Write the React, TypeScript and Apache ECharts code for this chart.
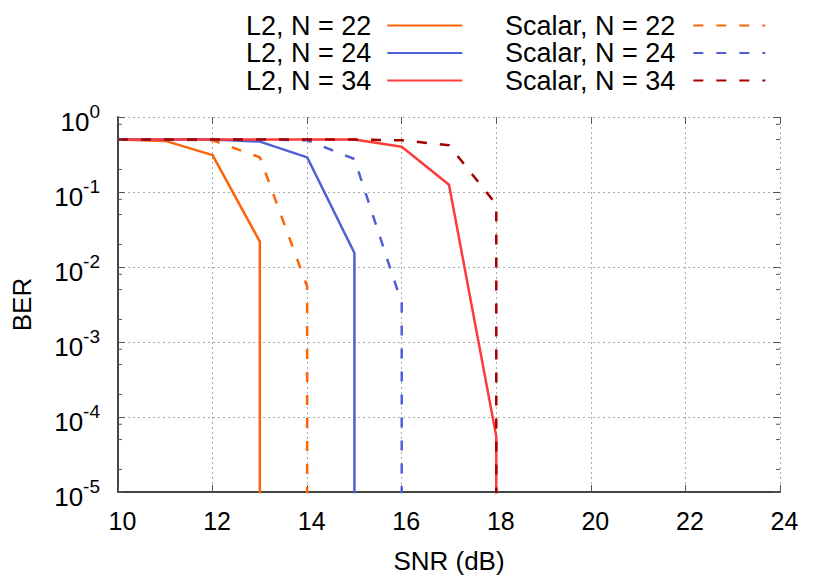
import React, { useEffect, useRef } from "react";
import * as echarts from "echarts";

// ---- data ----
// SNR (dB) / BER pairs; the last point of each curve (BER below the 1e-5 floor) marks the vertical drop
const snrL2N22 = [10, 11, 12, 13, 13];
const berL2N22 = [0.5, 0.48, 0.31, 0.0218, 1e-7];

const snrL2N24 = [10, 11, 12, 13, 14, 15, 15];
const berL2N24 = [0.5, 0.5, 0.5, 0.47, 0.29, 0.0154, 1e-7];

const snrL2N34 = [10, 11, 12, 13, 14, 15, 16, 17, 18, 18];
const berL2N34 = [0.5, 0.5, 0.5, 0.5, 0.5, 0.5, 0.4, 0.125, 5.5e-5, 1e-7];

const snrScN22 = [10, 11, 12, 13, 14, 14];
const berScN22 = [0.5, 0.5, 0.49, 0.29, 0.0055, 1e-7];

const snrScN24 = [10, 11, 12, 13, 14, 15, 16, 16];
const berScN24 = [0.5, 0.5, 0.5, 0.5, 0.49, 0.275, 0.0033, 1e-7];

const snrScN34 = [10, 11, 12, 13, 14, 15, 16, 17, 18, 18];
const berScN34 = [0.5, 0.5, 0.5, 0.5, 0.5, 0.5, 0.49, 0.42, 0.068, 1e-7];

const seriesNames = [
  "L2, N = 22",
  "L2, N = 24",
  "L2, N = 34",
  "Scalar, N = 22",
  "Scalar, N = 24",
  "Scalar, N = 34",
];
const seriesColors = ["#ff6308", "#4f5fd6", "#ff3a3a", "#ff6308", "#4f5fd6", "#a50000"];
const seriesDashed = [false, false, false, true, true, true];
const seriesSnr = [snrL2N22, snrL2N24, snrL2N34, snrScN22, snrScN24, snrScN34];
const seriesBer = [berL2N22, berL2N24, berL2N34, berScN22, berScN24, berScN34];

const xMin = 10;
const xMax = 24;
const xInterval = 2;
const yMin = 1e-5;
const yMax = 1;
// minor y ticks (2, 5, 8 within each decade)
const minorTickValues = [
  2e-5, 5e-5, 8e-5,
  2e-4, 5e-4, 8e-4,
  2e-3, 5e-3, 8e-3,
  2e-2, 5e-2, 8e-2,
  2e-1, 5e-1, 8e-1,
];

const FONT = "'Liberation Sans', Arial, Helvetica, sans-serif";

export default function App() {
  const ref = useRef<HTMLDivElement>(null);

  useEffect(() => {
    document.body.style.margin = "0";
    if (!ref.current) return;
    const chart = echarts.init(ref.current, undefined, { renderer: "svg" });

    const lineSeries = seriesNames.map((name, i) => ({
      name,
      type: "line",
      xAxisIndex: 0,
      yAxisIndex: 0,
      data: seriesSnr[i].map((x, k) => [x, seriesBer[i][k]]),
      symbol: "none",
      showSymbol: false,
      clip: true,
      z: 3,
      itemStyle: { color: seriesColors[i] },
      lineStyle: {
        color: seriesColors[i],
        width: 2.5,
        type: seriesDashed[i] ? [10, 13] : "solid",
      },
    }));

    const minorTickSeries = {
      type: "custom",
      xAxisIndex: 0,
      yAxisIndex: 0,
      silent: true,
      clip: false,
      z: 4,
      data: minorTickValues.map((v) => [xMin, v]),
      renderItem: (params: any, api: any) => {
        const v = api.value(1);
        const pl = api.coord([xMin, v]);
        const pr = api.coord([xMax, v]);
        const st = { stroke: "#555", lineWidth: 1 };
        return {
          type: "group",
          children: [
            { type: "line", shape: { x1: pl[0], y1: pl[1], x2: pl[0] + 4, y2: pl[1] }, style: st },
            { type: "line", shape: { x1: pr[0] - 4, y1: pr[1], x2: pr[0], y2: pr[1] }, style: st },
          ],
        };
      },
    };

    const gridLine = { show: true, lineStyle: { color: "#aaaaaa", width: 1, type: [2, 3] } };

    const legendBase = {
      orient: "vertical",
      align: "right",
      top: 7,
      itemHeight: 14,
      itemGap: 0.5,
      selectedMode: false,
      itemStyle: { opacity: 0 },
    };

    const option: any = {
      animation: false,
      backgroundColor: "#ffffff",
      textStyle: { fontFamily: FONT },
      grid: { left: 118, right: 50, top: 117, bottom: 89, containLabel: false },
      legend: [
        {
          ...legendBase,
          data: seriesNames.slice(0, 3),
          left: 241,
          itemWidth: 75,
          textStyle: { fontSize: 27, fontFamily: FONT, color: "#000", lineHeight: 27, padding: [0, 11, 0, 0] },
        },
        {
          ...legendBase,
          data: seriesNames.slice(3),
          left: 500,
          itemWidth: 72,
          textStyle: { fontSize: 27, fontFamily: FONT, color: "#000", lineHeight: 27, padding: [0, 13, 0, 0] },
        },
      ],
      xAxis: [
        {
          type: "value",
          min: xMin,
          max: xMax,
          interval: xInterval,
          position: "bottom",
          name: "SNR (dB)",
          nameLocation: "middle",
          nameGap: 56,
          nameTextStyle: { fontSize: 26, fontFamily: FONT, color: "#000" },
          axisLine: { show: true, onZero: false, lineStyle: { color: "#444", width: 2 } },
          axisTick: { show: true, inside: true, length: 7, lineStyle: { color: "#555", width: 1 } },
          axisLabel: { fontSize: 25, fontFamily: FONT, color: "#000", margin: 16, padding: [0, 0, 0, 9] },
          splitLine: gridLine,
        },
        {
          type: "value",
          min: xMin,
          max: xMax,
          interval: xInterval,
          position: "top",
          axisLine: { show: false },
          axisTick: { show: true, inside: true, length: 7, lineStyle: { color: "#555", width: 1 } },
          axisLabel: { show: false },
          splitLine: { show: false },
        },
      ],
      yAxis: [
        {
          type: "log",
          logBase: 10,
          min: yMin,
          max: yMax,
          position: "left",
          name: "BER",
          nameLocation: "middle",
          nameGap: 83,
          nameTextStyle: { fontSize: 26, fontFamily: FONT, color: "#000" },
          axisLine: { show: true, onZero: false, lineStyle: { color: "#444", width: 2 } },
          axisTick: { show: true, inside: true, length: 7, lineStyle: { color: "#555", width: 1 } },
          axisLabel: {
            margin: 18,
            padding: [9, 0, 0, 0],
            formatter: (v: number) => `{b|10}{s|${Math.round(Math.log10(v))}}`,
            rich: {
              b: { fontSize: 26, fontFamily: FONT, color: "#000", lineHeight: 40 },
              s: { fontSize: 19, fontFamily: FONT, color: "#000", lineHeight: 19, verticalAlign: "top" },
            },
          },
          splitLine: gridLine,
        },
        {
          type: "log",
          logBase: 10,
          min: yMin,
          max: yMax,
          position: "right",
          axisLine: { show: false },
          axisTick: { show: true, inside: true, length: 7, lineStyle: { color: "#555", width: 1 } },
          axisLabel: { show: false },
          splitLine: { show: false },
        },
      ],
      series: [...lineSeries, minorTickSeries],
    };

    chart.setOption(option);
    return () => chart.dispose();
  }, []);

  return <div ref={ref} style={{ width: 830, height: 581 }} />;
}
